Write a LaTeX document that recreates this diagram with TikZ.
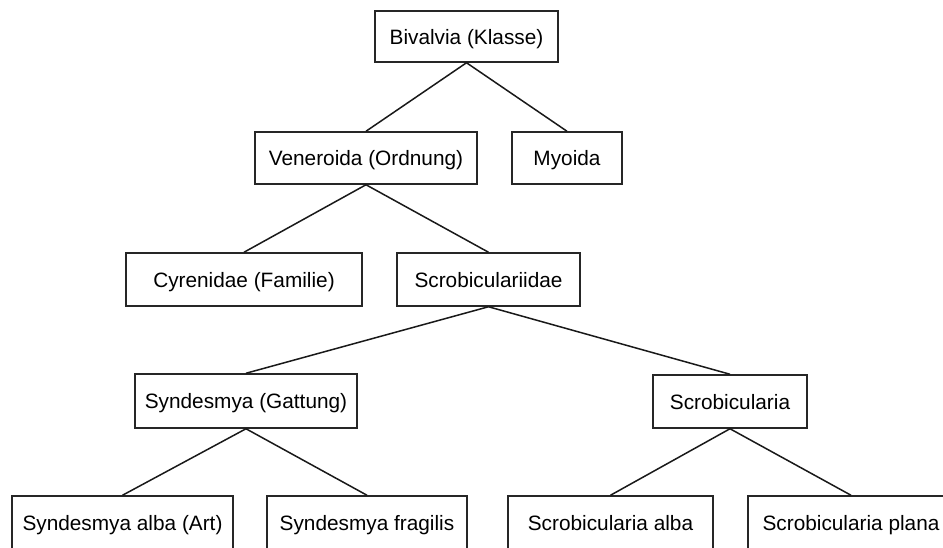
\documentclass[tikz,border=0pt]{standalone}
\usepackage{fontspec}
\setmainfont{Liberation Sans}
\begin{document}
\begin{tikzpicture}[x=1pt,y=-1pt,
  box/.style={draw=black!85, line width=1.5pt, rectangle, inner sep=0pt,
    font=\fontsize{20.8}{24}\selectfont, text height=15pt, text depth=0pt},
  link/.style={draw=black!90, line width=1.5pt}]
\clip (0,0) rectangle (943,547);
\fill[white] (0,0) rectangle (943,547);
\node[box, minimum width=183pt, minimum height=51pt] (biv) at (466.5,36.5) {Bivalvia (Klasse)};
\node[box, minimum width=222pt, minimum height=52pt] (ven) at (366,158) {Veneroida (Ordnung)};
\node[box, minimum width=110pt, minimum height=52pt] (myo) at (567,158) {Myoida};
\node[box, minimum width=236pt, minimum height=53pt] (cyr) at (244,279.5) {Cyrenidae (Familie)};
\node[box, minimum width=183pt, minimum height=53pt] (scf) at (488.5,279.5) {Scrobiculariidae};
\node[box, minimum width=222pt, minimum height=54pt] (syn) at (246,401) {Syndesmya (Gattung)};
\node[box, minimum width=154pt, minimum height=53pt] (scr) at (730,401.5) {Scrobicularia};
\node[box, minimum width=221pt, minimum height=54pt] (sa) at (122.5,523) {Syndesmya alba (Art)};
\node[box, minimum width=200pt, minimum height=54pt] (sf) at (367,523) {Syndesmya fragilis};
\node[box, minimum width=205pt, minimum height=54pt] (ca) at (610.5,523) {Scrobicularia alba};
\node[box, minimum width=206pt, minimum height=54pt] (cp) at (851,523) {Scrobicularia plana};
\draw[link] (biv.south) -- (ven.north);
\draw[link] (biv.south) -- (myo.north);
\draw[link] (ven.south) -- (cyr.north);
\draw[link] (ven.south) -- (scf.north);
\draw[link] (scf.south) -- (syn.north);
\draw[link] (scf.south) -- (scr.north);
\draw[link] (syn.south) -- (sa.north);
\draw[link] (syn.south) -- (sf.north);
\draw[link] (scr.south) -- (ca.north);
\draw[link] (scr.south) -- (cp.north);
\end{tikzpicture}
\end{document}
